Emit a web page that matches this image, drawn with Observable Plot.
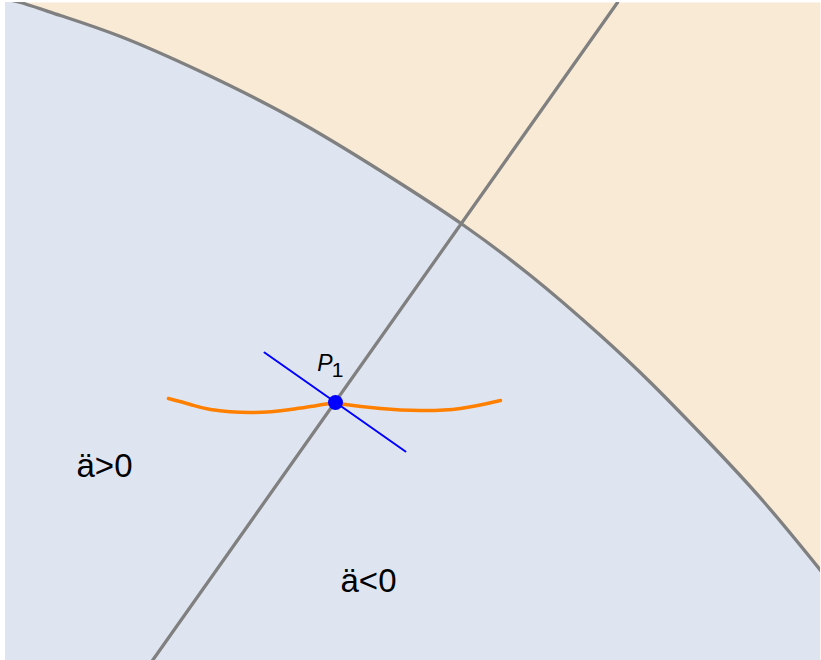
<!DOCTYPE html>
<html>
<head>
<meta charset="utf-8">
<script src="https://cdn.jsdelivr.net/npm/d3@7"></script>
<script src="https://cdn.jsdelivr.net/npm/@observablehq/plot@0.6"></script>
<style>
  html, body { margin: 0; padding: 0; background: #ffffff; }
  #chart svg { display: block; }
</style>
</head>
<body>
<div id="chart"></div>
<script>
// Boundary curve (separates the two regions)
const boundaryX = [0, 20, 60, 120, 200, 300, 400, 462, 530, 600, 650, 700, 763, 821, 830];
const boundaryY = [662, 658, 645, 624, 589, 538, 477, 436, 385, 325, 278, 227, 159, 89, 78];

// Straight gray line (ä = 0)
const lineX = [152, 617];
const lineY = [0, 658];

// Blue tangent segment through P1
const tangentX = [264, 405];
const tangentY = [308, 209];

// Point P1
const pointX = [335];
const pointY = [258];

// Orange trajectory, two branches meeting at P1
const orangeX = [168, 190, 210, 250, 290, 335, 335, 345, 380, 420, 460, 500];
const orangeY = [262, 256, 251, 248, 251, 258, 258, 256, 252, 250, 252, 260];
const orangeBranch = ["a", "a", "a", "a", "a", "a", "b", "b", "b", "b", "b", "b"];

// Region labels
const labelText = ["ä>0", "ä<0"];
const labelX = [104, 368];
const labelY = [194, 79];

const boundary = boundaryX.map((x, i) => ({x, y: boundaryY[i]}));
const line = lineX.map((x, i) => ({x, y: lineY[i]}));
const tangent = tangentX.map((x, i) => ({x, y: tangentY[i]}));
const orange = orangeX.map((x, i) => ({x, y: orangeY[i], b: orangeBranch[i]}));
const labels = labelText.map((t, i) => ({t, x: labelX[i], y: labelY[i]}));
const point = pointX.map((x, i) => ({x, y: pointY[i]}));

const beige = "#f9ead5";
const lightBlue = "#dfe5f0";

const chart = Plot.plot({
  width: 821,
  height: 660,
  marginLeft: 5,
  marginRight: 1,
  marginTop: 2,
  marginBottom: 0,
  x: {domain: [5, 820], axis: null},
  y: {domain: [0, 658], axis: null},
  style: {background: "#ffffff", fontFamily: "Liberation Sans, Arial, sans-serif"},
  marks: [
    Plot.frame({fill: beige, stroke: null}),
    Plot.areaY(boundary, {x: "x", y1: 0, y2: "y", fill: lightBlue, curve: "natural", clip: true}),
    Plot.line(boundary, {x: "x", y: "y", stroke: "#808080", strokeWidth: 3.3, curve: "natural", clip: true}),
    Plot.line(line, {x: "x", y: "y", stroke: "#808080", strokeWidth: 3.3, clip: true}),
    Plot.line(orange, {x: "x", y: "y", z: "b", stroke: "#ff8000", strokeWidth: 3.5, curve: "natural", clip: true}),
    Plot.line(tangent, {x: "x", y: "y", stroke: "#0000ff", strokeWidth: 2, clip: true}),
    Plot.dot(point, {x: "x", y: "y", r: 7.5, fill: "#0000ff", stroke: null}),
    Plot.text(point, {x: "x", y: "y", text: () => "P", dx: -10.5, dy: -38.5, fontSize: 23, fontStyle: "italic", fill: "#000"}),
    Plot.text(point, {x: "x", y: "y", text: () => "1", dx: 2, dy: -32, fontSize: 21, fill: "#000"}),
    Plot.text(labels, {x: "x", y: "y", text: "t", fontSize: 33, fill: "#000"})
  ]
});
document.getElementById("chart").appendChild(chart);
</script>
</body>
</html>
